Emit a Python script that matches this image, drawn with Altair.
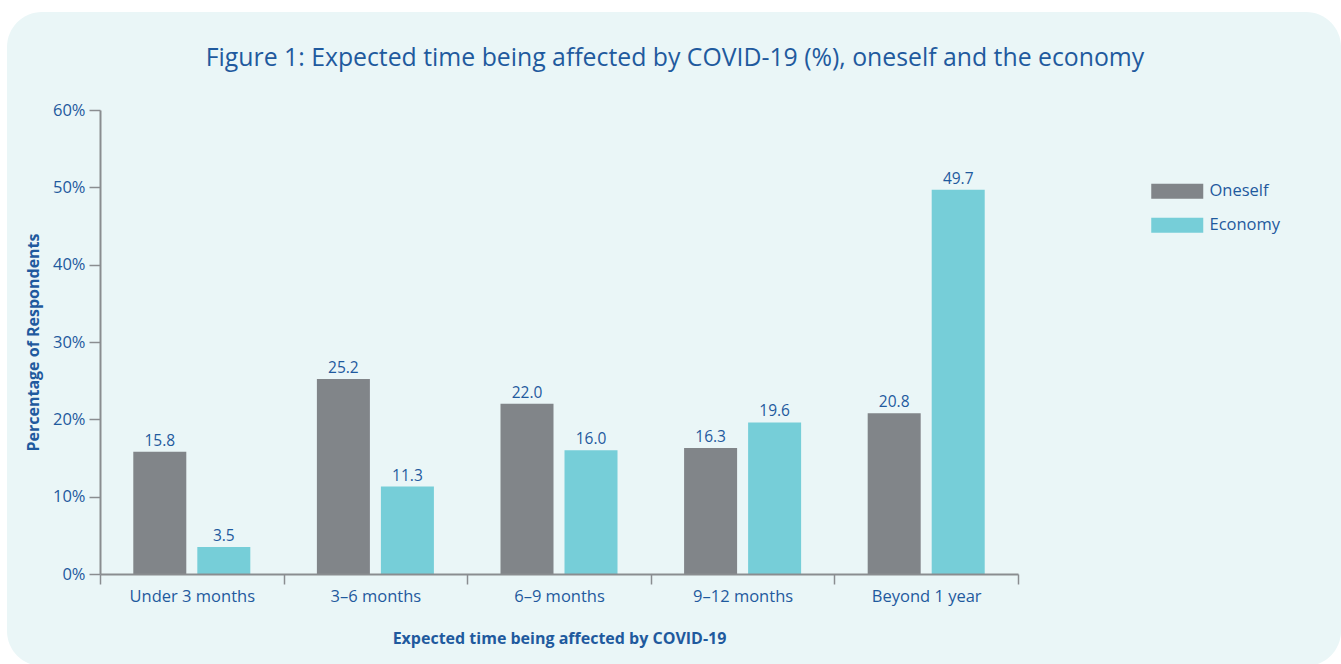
import altair as alt
import pandas as pd

# Survey answers: how long respondents expect COVID-19 to affect them and the economy
periods = ["Under 3 months", "3–6 months", "6–9 months", "9–12 months", "Beyond 1 year"]
series = ["Oneself", "Economy"]
oneself = [15.8, 25.2, 22.0, 16.3, 20.8]
economy = [3.5, 11.3, 16.0, 19.6, 49.7]

rows = []
for i, p in enumerate(periods):
    rows.append({"period": p, "series": "Oneself", "value": oneself[i]})
    rows.append({"period": p, "series": "Economy", "value": economy[i]})
df = pd.DataFrame(rows)

FONT = "Open Sans"
BLUE = "#1F5A9E"
AXIS_GREY = "#8A8D90"
colors = ["#818589", "#76CED8"]

x_enc = alt.X(
    "period:N",
    sort=periods,
    scale=alt.Scale(paddingInner=0, paddingOuter=0),
    axis=alt.Axis(
        title="Expected time being affected by COVID-19",
        labelAngle=0,
        labelFontSize=16.5,
        labelColor=BLUE,
        labelFont=FONT,
        labelPadding=4,
        tickBand="extent",
        tickSize=10,
        tickColor=AXIS_GREY,
        tickWidth=1.5,
        domainColor=AXIS_GREY,
        domainWidth=2,
        titleFont=FONT,
        titleFontSize=16,
        titleFontWeight="bold",
        titleColor=BLUE,
        titlePadding=26,
        zindex=1,
    ),
)
xoff_enc = alt.XOffset(
    "series:N", sort=series, scale=alt.Scale(paddingInner=0.172, paddingOuter=0.52)
)
y_enc = alt.Y(
    "value:Q",
    scale=alt.Scale(domain=[0, 60], nice=False),
    axis=alt.Axis(
        title="Percentage of Respondents",
        values=[0, 10, 20, 30, 40, 50, 60],
        labelExpr="datum.value + '%'",
        labelFontSize=16.5,
        labelColor=BLUE,
        labelFont=FONT,
        labelPadding=4,
        tickSize=11,
        tickColor=AXIS_GREY,
        tickWidth=1.5,
        domainColor=AXIS_GREY,
        domainWidth=2,
        grid=False,
        titleFont=FONT,
        titleFontSize=16,
        titleFontWeight="bold",
        titleColor=BLUE,
        titlePadding=11,
        zindex=1,
    ),
)

# rounded light panel behind the whole figure
panel = (
    alt.Chart(alt.Data(values=[{}]))
    .mark_rect(color="#EAF6F7", cornerRadius=35, clip=False)
    .encode(
        x=alt.value(-93),
        x2=alt.value(1241),
        y=alt.value(-98),
        y2=alt.value(556),
    )
)

bars = (
    alt.Chart(df)
    .mark_bar()
    .encode(
        x=x_enc,
        xOffset=xoff_enc,
        y=y_enc,
        color=alt.Color(
            "series:N",
            sort=series,
            scale=alt.Scale(domain=series, range=colors),
            legend=alt.Legend(
                title=None,
                orient="none",
                legendX=1069,
                legendY=73,
                symbolType="M-3.467,-1L3.467,-1L3.467,1L-3.467,1Z",
                symbolSize=225,
                symbolStrokeWidth=0,
                symbolOpacity=1,
                labelFont=FONT,
                labelFontSize=16.5,
                labelColor=BLUE,
                labelOffset=24,
                rowPadding=17,
            ),
        ),
    )
)

labels = (
    alt.Chart(df)
    .mark_text(baseline="bottom", dy=-3, fontSize=15.5, font=FONT, color=BLUE)
    .encode(
        x=alt.X("period:N", sort=periods),
        xOffset=alt.XOffset("series:N", sort=series),
        y=alt.Y("value:Q"),
        text=alt.Text("value:Q", format=".1f"),
    )
)

chart = (
    alt.layer(panel, bars, labels)
    .properties(
        width=918,
        height=464,
        title=alt.TitleParams(
            "Figure 1: Expected time being affected by COVID-19 (%), oneself and the economy",
            font=FONT,
            fontSize=24.8,
            fontWeight="normal",
            color=BLUE,
            anchor="middle",
            frame="group",
            dx=116,
            offset=-59,
        ),
        autosize=alt.AutoSizeParams(type="none"),
        padding={"left": 100, "top": 110, "right": 323, "bottom": 90},
        background="white",
    )
    .configure_view(stroke=None)
)

chart.save("out.html", embed_options={"renderer": "svg", "actions": False})
